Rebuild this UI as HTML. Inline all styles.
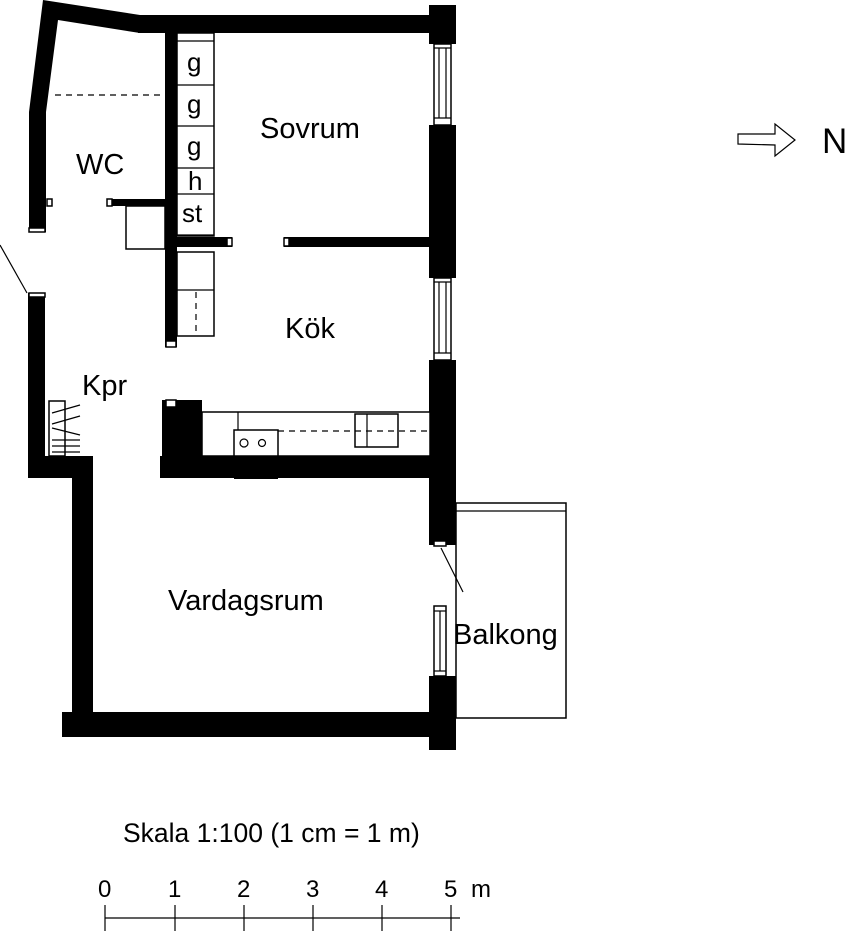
<!DOCTYPE html>
<html><head><meta charset="utf-8"><style>
html,body{margin:0;padding:0;background:#fff;}
svg{display:block;}
text{font-family:"Liberation Sans",sans-serif;fill:#000;}
</style></head><body>
<svg width="850" height="933" viewBox="0 0 850 933" xmlns="http://www.w3.org/2000/svg">
<g fill="#000" stroke="none">
<polygon points="43,0 140,15 140,33 58,20 46,112 46,232 29,232 29,112"/>
<rect x="138" y="15" width="300" height="18"/>
<rect x="429" y="5" width="27" height="39"/>
<rect x="420" y="15" width="12" height="18"/>
<rect x="165" y="33" width="12" height="314"/>
<rect x="107" y="199" width="58" height="7"/>
<rect x="177" y="237" width="55" height="10"/>
<rect x="284" y="237" width="148" height="10"/>
<rect x="429" y="125" width="27" height="153"/>
<rect x="429" y="360" width="27" height="185"/>
<rect x="429" y="676" width="27" height="74"/>
<rect x="28" y="293" width="17" height="185"/>
<rect x="28" y="456" width="65" height="22"/>
<rect x="72" y="456" width="21" height="264"/>
<rect x="62" y="712" width="380" height="25"/>
<rect x="162" y="400" width="40" height="78"/>
<rect x="160" y="456" width="272" height="22"/>
<rect x="234" y="470" width="44" height="9"/>
</g>
<g fill="#fff" stroke="#000" stroke-width="1.5">
<rect x="29" y="228" width="16" height="4"/>
<rect x="47" y="199" width="5" height="7"/>
<rect x="107" y="199" width="5" height="7"/>
<rect x="227" y="238" width="5" height="8"/>
<rect x="284" y="238" width="5" height="8"/>
<rect x="29" y="293" width="16" height="4"/>
<rect x="166" y="341" width="10" height="6"/>
<rect x="166" y="400" width="10" height="7"/>
<rect x="434" y="541" width="12" height="5"/>
<rect x="434" y="44" width="17" height="81"/>
<rect x="434" y="278" width="17" height="82"/>
<rect x="434" y="606" width="12" height="70"/>
<rect x="177" y="33" width="37" height="203"/>
<rect x="177" y="252" width="37" height="84"/>
<rect x="126" y="206" width="39" height="43"/>
<rect x="202" y="412" width="228" height="44"/>
<rect x="234" y="430" width="44" height="26"/>
<rect x="355" y="414" width="43" height="33"/>
<rect x="49" y="401" width="16" height="55"/>
<rect x="456" y="503" width="110" height="215"/>
</g>
<g stroke="#000" stroke-width="1.2" fill="none">
<line x1="439" y1="48" x2="439" y2="118"/><line x1="446" y1="48" x2="446" y2="118"/>
<line x1="434" y1="48" x2="451" y2="48"/><line x1="434" y1="118" x2="451" y2="118"/>
<line x1="439" y1="282" x2="439" y2="353"/><line x1="446" y1="282" x2="446" y2="353"/>
<line x1="434" y1="282" x2="451" y2="282"/><line x1="434" y1="353" x2="451" y2="353"/>
<line x1="440" y1="611" x2="440" y2="671"/>
<line x1="434" y1="611" x2="446" y2="611"/><line x1="434" y1="671" x2="446" y2="671"/>
<line x1="177" y1="41" x2="214" y2="41"/>
<line x1="177" y1="85" x2="214" y2="85"/>
<line x1="177" y1="126" x2="214" y2="126"/>
<line x1="177" y1="168" x2="214" y2="168"/>
<line x1="177" y1="194" x2="214" y2="194"/>
<line x1="177" y1="235" x2="214" y2="235"/>
<line x1="177" y1="290" x2="214" y2="290"/>
<line x1="196" y1="292" x2="196" y2="334" stroke-dasharray="6,5"/>
<line x1="55" y1="95" x2="165" y2="95" stroke-dasharray="6,5"/>
<line x1="278" y1="431" x2="430" y2="431" stroke-dasharray="6,5"/>
<line x1="367" y1="414" x2="367" y2="447"/>
<line x1="238" y1="412" x2="238" y2="430"/>
<circle cx="244" cy="443" r="4"/><circle cx="262" cy="443" r="3.5"/>
<line x1="0" y1="245" x2="27" y2="293"/>
<line x1="441" y1="548" x2="463" y2="592"/>
<line x1="456" y1="511" x2="566" y2="511"/>
<line x1="52" y1="413" x2="80" y2="405"/>
<line x1="52" y1="424" x2="80" y2="416"/>
<line x1="52" y1="428" x2="80" y2="435"/>
<line x1="52" y1="440" x2="80" y2="440"/>
<line x1="52" y1="446" x2="80" y2="446"/>
<line x1="52" y1="452" x2="80" y2="452"/>
<polygon points="738,134 775,134 775,124 795,140 775,156 775,145 738,144"/>
<line x1="105" y1="918" x2="460" y2="918"/>
<line x1="105" y1="905" x2="105" y2="931"/>
<line x1="175" y1="905" x2="175" y2="931"/>
<line x1="244" y1="905" x2="244" y2="931"/>
<line x1="313" y1="905" x2="313" y2="931"/>
<line x1="382" y1="905" x2="382" y2="931"/>
<line x1="451" y1="905" x2="451" y2="931"/>
</g>
<g font-size="26">
<text x="187" y="71">g</text>
<text x="187" y="113">g</text>
<text x="187" y="155">g</text>
<text x="188" y="190">h</text>
<text x="182" y="222">st</text>
</g>
<g font-size="29">
<text x="260" y="138">Sovrum</text>
<text x="76" y="174">WC</text>
<text x="285" y="338">Kök</text>
<text x="82" y="395">Kpr</text>
<text x="168" y="610">Vardagsrum</text>
<text x="453" y="644">Balkong</text>
<text x="822" y="153" font-size="35">N</text>
<text x="123" y="842" font-size="26.5">Skala 1:100 (1 cm = 1 m)</text>
<text x="98" y="897" font-size="24">0</text>
<text x="168" y="897" font-size="24">1</text>
<text x="237" y="897" font-size="24">2</text>
<text x="306" y="897" font-size="24">3</text>
<text x="375" y="897" font-size="24">4</text>
<text x="444" y="897" font-size="24">5</text>
<text x="471" y="897" font-size="24">m</text>
</g>
</svg>
</body></html>
